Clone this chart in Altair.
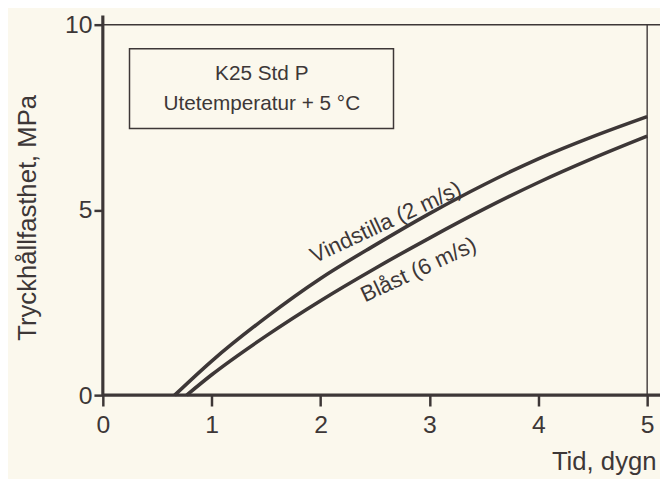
import altair as alt
import pandas as pd

# --- data ---
days_vind = [0.66, 1.0, 1.5, 2.0, 2.5, 3.0, 3.5, 4.0, 4.5, 5.0]
mpa_vind = [0.0, 0.92, 2.1, 3.15, 4.05, 4.9, 5.68, 6.38, 6.98, 7.52]
days_blast = [0.77, 1.0, 1.5, 2.0, 2.5, 3.0, 3.5, 4.0, 4.5, 5.0]
mpa_blast = [0.0, 0.55, 1.6, 2.55, 3.42, 4.24, 5.02, 5.74, 6.39, 6.99]

series_names = ["Vindstilla (2 m/s)", "Blåst (6 m/s)"]
x_ticks = [0, 1, 2, 3, 4, 5]
y_ticks = [0, 5, 10]
box_lines = ["K25 Std P", "Utetemperatur + 5 °C"]

INK = "#3d3737"
BG = "#fbf8ed"
FONT = "Liberation Sans"

curves = pd.DataFrame(
    [{"serie": series_names[0], "tid": d, "mpa": v} for d, v in zip(days_vind, mpa_vind)]
    + [{"serie": series_names[1], "tid": d, "mpa": v} for d, v in zip(days_blast, mpa_blast)]
)

xs = alt.Scale(domain=[0, 5], nice=False)
ys = alt.Scale(domain=[0, 10], nice=False)

x_axis = alt.Axis(
    values=x_ticks, format="d", title="Tid, dygn", grid=False, domain=False,
    tickSize=11, tickWidth=2.5, tickColor=INK, labelPadding=7,
    labelFontSize=25, labelColor=INK, labelFont=FONT, labelFlush=False,
    titleFontSize=26, titleFont=FONT, titleColor=INK, titleFontWeight="normal",
    titleAlign="right", titleAnchor="start", titleX=560, titleY=75,
    titleBaseline="alphabetic",
)
y_axis = alt.Axis(
    values=y_ticks, format="d", title="Tryckhållfasthet, MPa", grid=False, domain=False,
    tickSize=9, tickWidth=2.5, tickColor=INK, labelPadding=2,
    labelFontSize=25, labelColor=INK, labelFont=FONT, labelFlush=False,
    titleFontSize=26, titleFont=FONT, titleColor=INK, titleFontWeight="normal",
    titleX=-76, titleY=195, titleAngle=-90, titleAlign="center",
    titleBaseline="middle", titleAnchor="start",
)

lines = alt.Chart(curves).mark_line(
    color=INK, strokeWidth=3.6, interpolate="monotone", clip=False
).encode(
    x=alt.X("tid:Q", scale=xs, axis=x_axis),
    y=alt.Y("mpa:Q", scale=ys, axis=y_axis),
    detail="serie:N",
)

# frame / axis lines from data coordinates
frame = pd.DataFrame([
    {"x": 0, "x2": 5.12, "y": 0, "y2": 0, "w": 3.2},      # x-axis line
    {"x": 0, "x2": 0, "y": 0, "y2": 10.25, "w": 3.2},     # y-axis line
    {"x": 0, "x2": 5.12, "y": 10, "y2": 10, "w": 1.6},    # top frame
    {"x": 5, "x2": 5, "y": 0, "y2": 10, "w": 1.4},        # right frame
])
frame_rules = alt.Chart(frame).mark_rule(color=INK, clip=False).encode(
    x=alt.X("x:Q", scale=xs), x2="x2:Q",
    y=alt.Y("y:Q", scale=ys), y2="y2:Q",
    strokeWidth=alt.StrokeWidth("w:Q", scale=None, legend=None),
)

# label box
box_df = pd.DataFrame([{"x": 0.245, "x2": 2.67, "y": 9.35, "y2": 7.2}])
box = alt.Chart(box_df).mark_rect(fill=None, stroke=INK, strokeWidth=1.5).encode(
    x=alt.X("x:Q", scale=xs), x2="x2:Q",
    y=alt.Y("y:Q", scale=ys), y2="y2:Q",
)
box_text_df = pd.DataFrame([
    {"x": 1.46, "y": 8.68, "t": box_lines[0]},
    {"x": 1.46, "y": 7.85, "t": box_lines[1]},
])
box_text = alt.Chart(box_text_df).mark_text(
    font=FONT, fontSize=21, color=INK, align="center", baseline="middle"
).encode(x=alt.X("x:Q", scale=xs), y=alt.Y("y:Q", scale=ys), text="t:N")

lab_df = pd.DataFrame([
    {"x": 2.6, "y": 4.66, "t": series_names[0], "a": 335},
    {"x": 2.9, "y": 3.38, "t": series_names[1], "a": 335},
])
curve_labels = alt.Chart(lab_df).mark_text(
    font=FONT, fontSize=22.5, color=INK, align="center", baseline="middle"
).encode(
    x=alt.X("x:Q", scale=xs), y=alt.Y("y:Q", scale=ys), text="t:N",
    angle=alt.Angle("a:Q", scale=None),
)

chart = alt.layer(frame_rules, lines, box, box_text, curve_labels).properties(
    width=551, height=375,
    autosize=alt.AutoSizeParams(type="none"),
    padding={"left": 96, "top": 14, "right": 13, "bottom": 82},
    background=BG,
).configure_view(stroke=None)

chart.save("out.html", embed_options={"renderer": "svg", "actions": False})
